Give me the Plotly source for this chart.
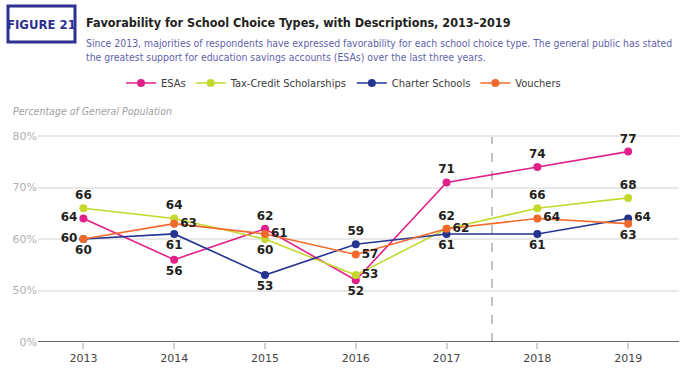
import plotly.graph_objects as go

years = [2013, 2014, 2015, 2016, 2017, 2018, 2019]
esas = [64, 56, 62, 52, 71, 74, 77]
tax_credit = [66, 64, 60, 53, 62, 66, 68]
charter = [60, 61, 53, 59, 61, 61, 64]
vouchers = [60, 63, 61, 57, 62, 64, 63]

series_names = ["ESAs", "Tax-Credit Scholarships", "Charter Schools", "Vouchers"]
colors = ["#e0218a", "#c4d82e", "#25358f", "#f26a2b"]

esas_pos = ["middle left", "bottom center", "top center", "bottom center", "top center", "top center", "top center"]
tax_pos = ["top center", "top center", "bottom center", "middle right", "top center", "top center", "top center"]
charter_pos = ["middle left", "bottom center", "bottom center", "top center", "bottom center", "bottom center", "middle right"]
vouchers_pos = ["bottom center", "middle right", "middle right", "middle right", "middle right", "middle right", "bottom center"]

y_tickvals = [40, 50, 60, 70, 80]
y_ticktext = ["0%", "50%", "60%", "70%", "80%"]

W, H = 696, 373
ML, MR, MT, MB = 38, 17, 131, 31
PW = W - ML - MR
PH = H - MT - MB

COND = "DejaVu Sans Condensed, Roboto, sans-serif"

def px(x):
    return (x - ML) / PW

def py(y):
    return (H - MB - y) / PH

fig = go.Figure()
for name, vals, col, pos in zip(series_names, [esas, tax_credit, charter, vouchers], colors,
                                [esas_pos, tax_pos, charter_pos, vouchers_pos]):
    fig.add_trace(go.Scatter(
        x=years, y=vals, name=name, mode="lines+markers+text",
        line=dict(color=col, width=1.6),
        marker=dict(color=col, size=8),
        text=[str(v) for v in vals], textposition=pos,
        textfont=dict(family="DejaVu Sans", size=12, color="#231f20", weight="bold"),
        cliponaxis=False,
    ))

fig.add_shape(type="line", x0=2017.5, x1=2017.5, y0=40, y1=80, xref="x", yref="y",
              line=dict(color="#9a9a9a", width=1.2, dash="dash"), layer="below")

# header box
fig.add_shape(type="rect", xref="paper", yref="paper",
              x0=px(8), x1=px(75), y0=py(42), y1=py(6),
              line=dict(color="#2e3192", width=3), fillcolor="white")
fig.add_annotation(xref="paper", yref="paper", x=px(41.5), y=py(24), text="<b>FIGURE 21</b>",
                   showarrow=False, xanchor="center", yanchor="middle",
                   font=dict(family=COND, size=13, color="#2e3192"))
fig.add_annotation(xref="paper", yref="paper", x=px(84), y=py(22),
                   text="<b>Favorability for School Choice Types, with Descriptions, 2013–2019</b>",
                   showarrow=False, xanchor="left", yanchor="middle",
                   font=dict(family=COND, size=12.5, color="#231f20"))
fig.add_annotation(xref="paper", yref="paper", x=px(84), y=py(50),
                   text="Since 2013, majorities of respondents have expressed favorability for each school choice type. The general public has stated<br>the greatest support for education savings accounts (ESAs) over the last three years.",
                   showarrow=False, xanchor="left", yanchor="middle", align="left",
                   font=dict(family=COND, size=10.4, color="#5f62ab"))
fig.add_annotation(xref="paper", yref="paper", x=px(11), y=py(111),
                   text="<i>Percentage of General Population</i>",
                   showarrow=False, xanchor="left", yanchor="middle",
                   font=dict(family=COND, size=10.5, color="#a0a0a0"))

fig.update_layout(
    width=W, height=H,
    margin=dict(l=ML, r=MR, t=MT, b=MB, autoexpand=False),
    paper_bgcolor="white", plot_bgcolor="white",
    showlegend=True,
    legend=dict(orientation="h", x=px(121), y=py(83), xanchor="left", yanchor="middle",
                font=dict(family=COND, size=11, color="#3a3a3a"),
                itemwidth=30),
    xaxis=dict(range=[2012.5, 2019.56], tickvals=years, showgrid=False,
               showline=False, zeroline=False,
               ticks="outside", ticklen=6, tickcolor="#d0d0d0", tickwidth=1.5,
               tickfont=dict(family="DejaVu Sans", size=11, color="#444444")),
    yaxis=dict(range=[40, 81], tickvals=y_tickvals, ticktext=y_ticktext,
               showgrid=True, gridcolor="#e8e8e8", gridwidth=1.5,
               zeroline=False, showline=False, ticks="",
               tickfont=dict(family="DejaVu Sans", size=11, color="#b0b0b0")),
)
fig.add_hline(y=40, line=dict(color="#333333", width=1.5))

fig.write_html("out.html", config={"displayModeBar": False},
               post_script="document.body.style.margin='0';document.body.style.padding='0';")
